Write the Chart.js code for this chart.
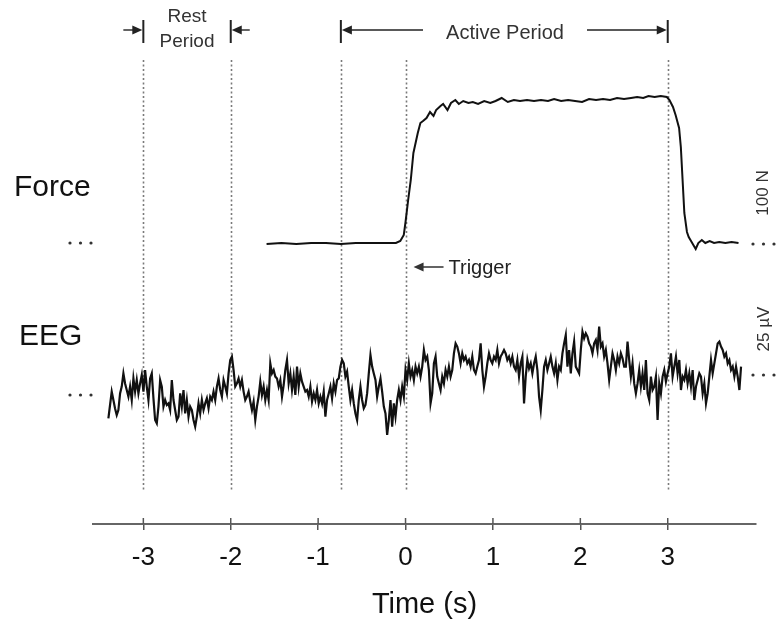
<!DOCTYPE html>
<html>
<head>
<meta charset="utf-8">
<title>Force and EEG around trigger</title>
<script src="https://cdn.jsdelivr.net/npm/chart.js@4.4.1/dist/chart.umd.min.js"></script>
<style>
    html, body { margin: 0; padding: 0; background: #fff; }
    canvas { display: block; }
</style>
</head>
<body>
<canvas id="chart" width="776" height="626"></canvas>
<script>
// x axis tick labels (seconds)
const tickValues = [-3, -2, -1, 0, 1, 2, 3];

// dotted marker lines: rest start, rest end, active start, trigger, active end
const markerTimes = [-3, -2, -0.74, 0, 3];

// Force trace (N, relative to resting baseline)
const forceTimes = [
    -1.59, -1.42, -1.25, -1.08, -0.91, -0.74, -0.57, -0.40, -0.23, -0.11, -0.06, -0.02,
    0, 0.03, 0.06, 0.09, 0.14, 0.17, 0.20, 0.24, 0.28, 0.32,
    0.35, 0.40, 0.43, 0.48, 0.52, 0.57, 0.61, 0.66, 0.72, 0.77,
    0.83, 0.90, 0.97, 1.03, 1.10, 1.17, 1.24, 1.31, 1.39, 1.47,
    1.55, 1.63, 1.70, 1.78, 1.86, 1.94, 2.02, 2.10, 2.18, 2.26,
    2.34, 2.42, 2.50, 2.58, 2.65, 2.72, 2.78, 2.85, 2.92, 2.99,
    3.02, 3.06, 3.09, 3.13, 3.15, 3.17, 3.19, 3.22, 3.24, 3.26,
    3.30, 3.32, 3.35, 3.39, 3.43, 3.48, 3.53, 3.59, 3.66, 3.73, 3.81
];
const forceValues = [
    -1, 0, -1, 0, 0, -1, 0, 0, 0, 0, 2, 8,
    21, 43, 63, 90, 110, 120, 122, 125, 131, 127,
    133, 137, 139, 133, 140, 143, 139, 142, 140, 141,
    139, 142, 140, 142, 145, 141, 143, 142, 143, 142,
    143, 142, 144, 142, 143, 142, 141, 144, 143, 144,
    143, 145, 144, 145, 146, 145, 147, 146, 147, 146,
    143, 136, 128, 115, 96, 63, 30, 11, 6, 3,
    -3, -6, 0, 3, 0, 2, 0, 1, 0, 1, 0
];

// EEG trace (µV), sampled every eegStep seconds from eegStart
const eegStart = -3.40;
const eegStep = 0.0191;
const eegValues = [
    -16.7, -10.0, -3.3, -7.5, -11.7, -15.0, -12.5, -4.2, -0.8, 5.8,
    0.8, -2.5, -5.8, -0.8, -7.5, 3.3, -3.3, 2.5, -4.2, 0.8,
    5.0, -3.3, 7.5, -0.8, -7.5, 3.3, 5.8, -6.7, -17.5, -19.2,
    -10.8, 2.5, -0.8, -10.8, -7.5, -10.0, -9.2, -12.5, 2.5, -7.5,
    -12.5, -17.5, -15.8, -4.2, -10.8, -2.5, -14.2, -7.5, -15.8, -10.8,
    -12.5, -17.5, -20.8, -15.8, -9.2, -14.2, -7.5, -12.5, -9.2, -6.7,
    -11.7, -5.8, -7.5, -3.3, -7.5, -0.8, 3.3, -2.5, -5.8, 2.5,
    -0.8, -4.2, 5.8, 12.5, 14.2, 7.5, -0.8, 0.8, 3.3, -0.8,
    2.5, -3.3, -7.5, -5.8, -3.3, -8.3, -12.5, -8.3, -17.5, -10.8,
    -5.8, 1.7, -5.0, -0.8, -7.5, -2.5, -7.5, 10.8, 5.8, 7.5,
    4.2, 3.3, -0.8, 2.5, -5.8, 0, 7.5, 12.5, 0.8, 5.8,
    -2.5, 4.2, -5.0, 9.2, -0.8, 5.8, 1.7, -0.8, -3.3, -2.5,
    -5.8, -0.8, -8.3, -4.2, -7.5, -2.5, -9.2, -5.8, -9.2, -3.3,
    -15.8, -7.5, -4.2, -0.8, -6.7, 0.8, -3.3, 2.5, 3.3, 9.2,
    12.5, 10.8, 4.2, 6.7, -0.8, -7.5, -2.5, -9.2, -14.2, -17.5,
    -7.5, -0.8, -7.5, -11.7, -10.0, -4.2, 5.8, 15.0, 9.2, 5.8,
    2.5, -5.8, -0.8, 3.3, -3.3, -10.8, -14.2, -25.0, -17.5, -7.5,
    -20.8, -9.2, -15.8, -7.5, -2.5, -7.5, -0.8, -5.8, 7.5, 2.5,
    10.8, 4.2, 7.5, 2.5, 9.2, 5.8, 9.2, 4.2,
    9.2, 17.5, 12.5, 14.2, 7.5, -9.2, -4.2, 10.8, 14.2, 4.2,
    0.8, -2.5, 4.2, 0.8, 7.5, 4.2, 9.2, 4.2, 7.5, 15.8,
    20.8, 19.2, 15.8, 10.8, 15.8, 12.5, 14.2, 10.8, 12.5, 9.2,
    14.2, 7.5, 5.8, 9.2, 12.5, 20.8, 7.5, -0.8, 4.2, 10.8,
    15.8, 12.5, 10.8, 14.2, 12.5, 17.5, 10.8, 14.2, 15.8, 17.5,
    15.8, 12.5, 14.2, 10.8, 14.2, 9.2, 7.5, 12.5, 4.2, 10.8,
    14.2, -9.2, 4.2, 12.5, 8.3, 10.8, 5.8, 10.8, 14.2, 7.5,
    -5.8, -12.5, -2.5, 9.2, 12.5, 7.5, 10.8, 14.2, 9.2, 5.8,
    10.8, 2.5, 9.2, 7.5, 15.8, 20.8, 25.0, 9.2, 17.5, 5.8,
    15.8, 21.7, 9.2, 7.5, 5.8, 17.5, 26.7, 23.3, 25.8, 24.2,
    20.8, 19.2, 15.8, 20.8, 22.5, 17.5, 29.2, 19.2, 20.8, 14.2,
    17.5, 10.8, 2.5, 9.2, 15.8, 12.5, 7.5, 14.2, 10.8, 15.8,
    13.3, 9.2, 9.2, 21.7, 12.5, 4.2, 10.8, 0.8, -4.2, 0.8,
    7.5, -0.8, 5.8, -2.5, 12.5, -4.2, -7.5, 4.2, -2.5, -0.8,
    4.2, -17.5, 0.8, -4.2, 4.2, 7.5, 1.7, 5.8, 9.2, 15.8,
    4.2, 9.2, 14.2, 5.8, 12.5, -2.5, 4.2, 2.5, 7.5, 0.8,
    5.8, -0.8, 7.5, -7.5, -0.8, 2.5, 5.8, 4.2, -4.2, 0.8,
    -9.2, -4.2, 4.2, 12.5, 5.8, 10.8, 15.8, 20.8, 21.7, 19.2,
    17.5, 14.2, 15.8, 10.8, 12.5, 7.5, 9.2, 4.2, 9.2, 4.2,
    -2.5, 9.2
];

const FONT = '"Liberation Sans", Arial, Helvetica, sans-serif';

const forcePoints = forceTimes.map((t, i) => ({ x: t, y: forceValues[i] }));
const eegPoints = eegValues.map((v, i) => ({ x: eegStart + i * eegStep, y: v }));

// small helpers for the annotation layer
function arrowLine(ctx, x1, y, x2) {
    const d = Math.sign(x2 - x1);
    ctx.beginPath();
    ctx.moveTo(x1, y);
    ctx.lineTo(x2 - d * 6, y);
    ctx.stroke();
    ctx.beginPath();
    ctx.moveTo(x2, y);
    ctx.lineTo(x2 - d * 10, y - 4.5);
    ctx.lineTo(x2 - d * 10, y + 4.5);
    ctx.closePath();
    ctx.fill();
}

function bar(ctx, x, y1, y2) {
    ctx.beginPath();
    ctx.moveTo(x, y1);
    ctx.lineTo(x, y2);
    ctx.stroke();
}

function dots(ctx, x, y) {
    for (let k = 0; k < 3; k++) {
        ctx.beginPath();
        ctx.arc(x + k * 10.5, y, 1.6, 0, Math.PI * 2);
        ctx.fill();
    }
}

function text(ctx, str, x, y, size, align, color) {
    ctx.font = size + 'px ' + FONT;
    ctx.textAlign = align;
    ctx.textBaseline = 'middle';
    ctx.fillStyle = color;
    ctx.fillText(str, x, y);
}

function vText(ctx, str, x, y, size) {
    ctx.save();
    ctx.translate(x, y);
    ctx.rotate(-Math.PI / 2);
    text(ctx, str, 0, 0, size, 'center', '#333');
    ctx.restore();
}

const markerPlugin = {
    id: 'markers',
    beforeDatasetsDraw(chart) {
        const ctx = chart.ctx;
        const xs = chart.scales.x;
        ctx.save();
        ctx.strokeStyle = '#7a7a7a';
        ctx.lineWidth = 1.6;
        ctx.setLineDash([2, 2.5]);
        markerTimes.forEach(t => {
            const px = Math.round(xs.getPixelForValue(t)) + 0.5;
            bar(ctx, px, 60, 490);
        });
        ctx.restore();
    },
    afterDraw(chart) {
        const ctx = chart.ctx;
        const xs = chart.scales.x;
        const yF = chart.scales.yF;
        const yE = chart.scales.yE;
        const axisY = chart.chartArea.bottom;
        ctx.save();

        // upper half of the axis ticks
        ctx.strokeStyle = '#555';
        ctx.lineWidth = 1.5;
        tickValues.forEach(v => bar(ctx, xs.getPixelForValue(v), axisY - 6, axisY));

        // period brackets at top
        ctx.strokeStyle = '#222';
        ctx.fillStyle = '#222';
        const xR0 = xs.getPixelForValue(markerTimes[0]);
        const xR1 = xs.getPixelForValue(markerTimes[1]);
        const xA0 = xs.getPixelForValue(markerTimes[2]);
        const xA1 = xs.getPixelForValue(markerTimes[4]);
        const xT = xs.getPixelForValue(markerTimes[3]);
        ctx.lineWidth = 2;
        [xR0, xR1, xA0, xA1].forEach(x => bar(ctx, x, 20, 43));
        ctx.lineWidth = 1.4;
        arrowLine(ctx, xR0 - 20, 30, xR0 - 1);
        arrowLine(ctx, xR1 + 19, 30, xR1 + 1);
        arrowLine(ctx, 423, 30, xA0 + 1);
        arrowLine(ctx, 587, 30, xA1 - 1);
        text(ctx, 'Rest', (xR0 + xR1) / 2, 17, 19, 'center', '#333');
        text(ctx, 'Period', (xR0 + xR1) / 2, 42, 19, 'center', '#333');
        text(ctx, 'Active Period', 505, 33, 20, 'center', '#333');

        // trigger label
        arrowLine(ctx, xT + 38, 267, xT + 8);
        text(ctx, 'Trigger', xT + 43, 268, 20, 'left', '#222');

        // trace labels and baselines
        text(ctx, 'Force', 14, 188, 30, 'left', '#111');
        text(ctx, 'EEG', 19, 337, 30, 'left', '#111');
        ctx.fillStyle = '#333';
        dots(ctx, 70, yF.getPixelForValue(0));
        dots(ctx, 70, yE.getPixelForValue(-5));
        dots(ctx, 753, yF.getPixelForValue(-1));
        dots(ctx, 753, yE.getPixelForValue(5));
        vText(ctx, '100 N', 763, 193, 17);
        vText(ctx, '25 µV', 764, 329, 17);

        ctx.restore();
    }
};

const ctx = document.getElementById('chart').getContext('2d');
window.myChart = new Chart(ctx, {
    type: 'line',
    data: {
        datasets: [
            {
                label: 'Force',
                data: forcePoints,
                yAxisID: 'yF',
                borderColor: '#111',
                borderWidth: 2,
                pointRadius: 0,
                tension: 0,
                fill: false,
            },
            {
                label: 'EEG',
                data: eegPoints,
                yAxisID: 'yE',
                borderColor: '#111',
                borderWidth: 2.2,
                pointRadius: 0,
                tension: 0,
                fill: false,
            },
        ],
    },
    options: {
        responsive: false,
        animation: false,
        layout: { padding: { left: 93, right: 20, top: 0, bottom: 4 } },
        scales: {
            x: {
                type: 'linear',
                min: -3.576,
                max: 4.01,
                afterBuildTicks: scale => {
                    scale.ticks = tickValues.map(v => ({ value: v }));
                },
                ticks: {
                    color: '#111',
                    padding: 12,
                    font: { family: FONT, size: 26 },
                    callback: v => String(v),
                },
                grid: {
                    display: true,
                    drawOnChartArea: false,
                    drawTicks: true,
                    tickLength: 6,
                    color: '#555',
                    lineWidth: 1.5,
                },
                border: { display: true, color: '#666', width: 2 },
                title: {
                    display: true,
                    text: 'Time (s)',
                    color: '#111',
                    font: { family: FONT, size: 29 },
                    padding: { top: 2, bottom: 0 },
                },
            },
            yF: {
                type: 'linear',
                display: false,
                min: -281,
                max: 243,
            },
            yE: {
                type: 'linear',
                display: false,
                min: -69.5,
                max: 192.5,
            },
        },
        plugins: {
            legend: { display: false },
            tooltip: { enabled: false },
        },
    },
    plugins: [markerPlugin],
});
</script>
</body>
</html>
